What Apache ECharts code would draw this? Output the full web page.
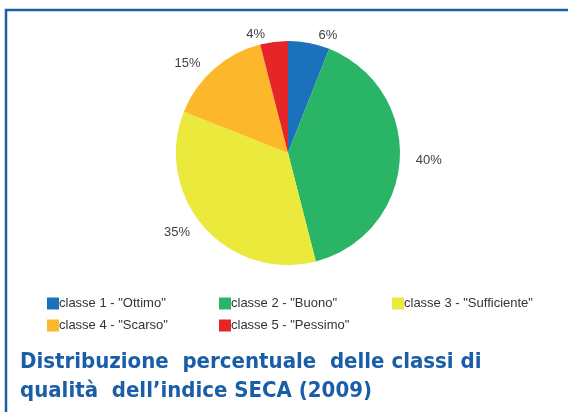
<!DOCTYPE html>
<html>
<head>
<meta charset="utf-8">
<script src="https://cdn.jsdelivr.net/npm/echarts@6/dist/echarts.min.js"></script>
<style>
  html, body { margin: 0; padding: 0; background: #fff; }
  #chart { width: 568px; height: 412px; }
</style>
</head>
<body>
<div id="chart"></div>
<script>
// dati
const classi = ['classe 1 - "Ottimo"', 'classe 2 - "Buono"', 'classe 3 - "Sufficiente"', 'classe 4 - "Scarso"', 'classe 5 - "Pessimo"'];
const percentuali = [6, 40, 35, 15, 4];
const colori = ['#1b72bb', '#2ab566', '#ece93d', '#fdb72a', '#e52528'];
const titolo = ['Distribuzione  percentuale  delle classi di', 'qualità  dell\u2019indice SECA (2009)'];

const blu = '#1a5ea8';
let chart = echarts.init(document.getElementById('chart'));

const legendBase = {
  orient: 'vertical',
  itemWidth: 12,
  itemHeight: 12,
  itemGap: 9,
  icon: 'rect',
  textStyle: { color: '#333', fontSize: 13, fontFamily: 'Liberation Sans, sans-serif', padding: [0, 0, 0, -5] }
};

chart.setOption({
  backgroundColor: '#fff',
  color: colori,
  legend: [
    Object.assign({}, legendBase, { left: 42, top: 292, data: [classi[0], classi[3]] }),
    Object.assign({}, legendBase, { left: 214, top: 292, data: [classi[1], classi[4]] }),
    Object.assign({}, legendBase, { left: 387, top: 292, data: [classi[2]] })
  ],
  graphic: [
    {
      type: 'rect',
      shape: { x: 6, y: 10, width: 620, height: 500 },
      style: { fill: 'none', stroke: blu, lineWidth: 2.5 }
    },
    {
      type: 'text',
      left: 20, top: 351,
      style: { text: titolo[0], fill: blu, font: 'bold 22px "DejaVu Sans Condensed", sans-serif' }
    },
    {
      type: 'text',
      left: 20, top: 380,
      style: { text: titolo[1], fill: blu, font: 'bold 22px "DejaVu Sans Condensed", sans-serif' }
    }
  ],
  series: [{
    type: 'pie',
    center: [288, 153],
    radius: 112,
    startAngle: 90,
    data: classi.map((c, i) => ({ name: c, value: percentuali[i] })),
    label: {
      show: true,
      position: 'outside',
      formatter: '{c}%',
      color: '#404040',
      fontSize: 13,
      fontFamily: 'Liberation Sans, sans-serif'
    },
    labelLine: { show: false, length: 8, length2: 3 },
    itemStyle: { borderColor: '#fff', borderWidth: 0 },
    emphasis: { disabled: true }
  }]
});
</script>
</body>
</html>
